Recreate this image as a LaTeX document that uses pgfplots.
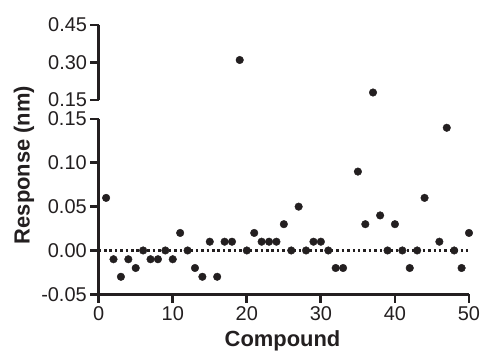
\documentclass[border=0pt]{standalone}
\usepackage{pgfplots}
\pgfplotsset{compat=1.18}
\usepackage{fontspec}
\setmainfont{Liberation Sans}
\definecolor{dotc}{RGB}{35,31,32}
\pgfplotsset{
  brk/.style={
    scale only axis,
    width=370.3bp,
    xmin=0, xmax=50,
    tick label style={font=\fontsize{20}{20}\selectfont, text=dotc},
    /pgf/number format/assume math mode=true,
    yticklabel style={/pgf/number format/.cd, fixed, fixed zerofill, precision=2},
    clip=false,
  },
  brklines/.style={
    tick align=outside,
    major tick length=8.5bp,
    ytick pos=left,
    axis line style={-, line width=3bp, color=dotc},
    every outer x axis line/.append style={line width=3bp},
    every outer y axis line/.append style={line width=3bp},
    tick style={line width=2.8bp, color=dotc},
  }
}
\begin{document}
\begin{tikzpicture}
\useasboundingbox (-98.7bp,-64.7bp) rectangle (395.3bp,294.3bp);
% bottom segment
\begin{axis}[brk,
  at={(0bp,0bp)}, anchor=south west,
  height=175.3bp,
  ymin=-0.05, ymax=0.15,
  ytick={-0.05,0,0.05,0.10,0.15},
  xtick={0,10,20,30,40,50},
  axis x line=bottom, axis y line=left,
  brklines,
  xtick pos=bottom,
]
\addplot[dotc, line width=2.5bp, dash pattern=on 2.5bp off 2.9bp] coordinates {(0,0) (50,0)};
\addplot[only marks, mark=*, mark size=3.8bp, dotc, line width=0.4bp] coordinates {
(1,0.06) (2,-0.01) (3,-0.03) (4,-0.01) (5,-0.02) (6,0.00) (7,-0.01) (8,-0.01)
(9,0.00) (10,-0.01) (11,0.02) (12,0.00) (13,-0.02) (14,-0.03) (15,0.01) (16,-0.03)
(17,0.01) (18,0.01) (20,0.00) (21,0.02) (22,0.01) (23,0.01) (24,0.01) (25,0.03)
(26,0.00) (27,0.05) (28,0.00) (29,0.01) (30,0.01) (31,0.00) (32,-0.02) (33,-0.02)
(35,0.09) (36,0.03) (38,0.04) (39,0.00) (40,0.03) (41,0.00) (42,-0.02) (43,0.00)
(44,0.06) (46,0.01) (47,0.14) (48,0.00) (49,-0.02) (50,0.02)
};
\end{axis}
% top segment
\begin{axis}[brk,
  at={(0.3bp,194.3bp)}, anchor=south west,
  height=75bp,
  ymin=0.15, ymax=0.45,
  ytick={0.15,0.30,0.45},
  axis x line=none, axis y line=left,
  brklines,
]
\addplot[only marks, mark=*, mark size=3.8bp, dotc, line width=0.4bp] coordinates {
(19,0.31) (37,0.18)
};
\end{axis}
\node[rotate=90, font=\bfseries\fontsize{22}{22}\selectfont, text=dotc] at (-74.7bp,129.3bp) {Response (nm)};
\node[anchor=base, font=\bfseries\fontsize{22}{22}\selectfont, text=dotc] at (183.8bp,-52.4bp) {Compound};
\end{tikzpicture}
\end{document}
